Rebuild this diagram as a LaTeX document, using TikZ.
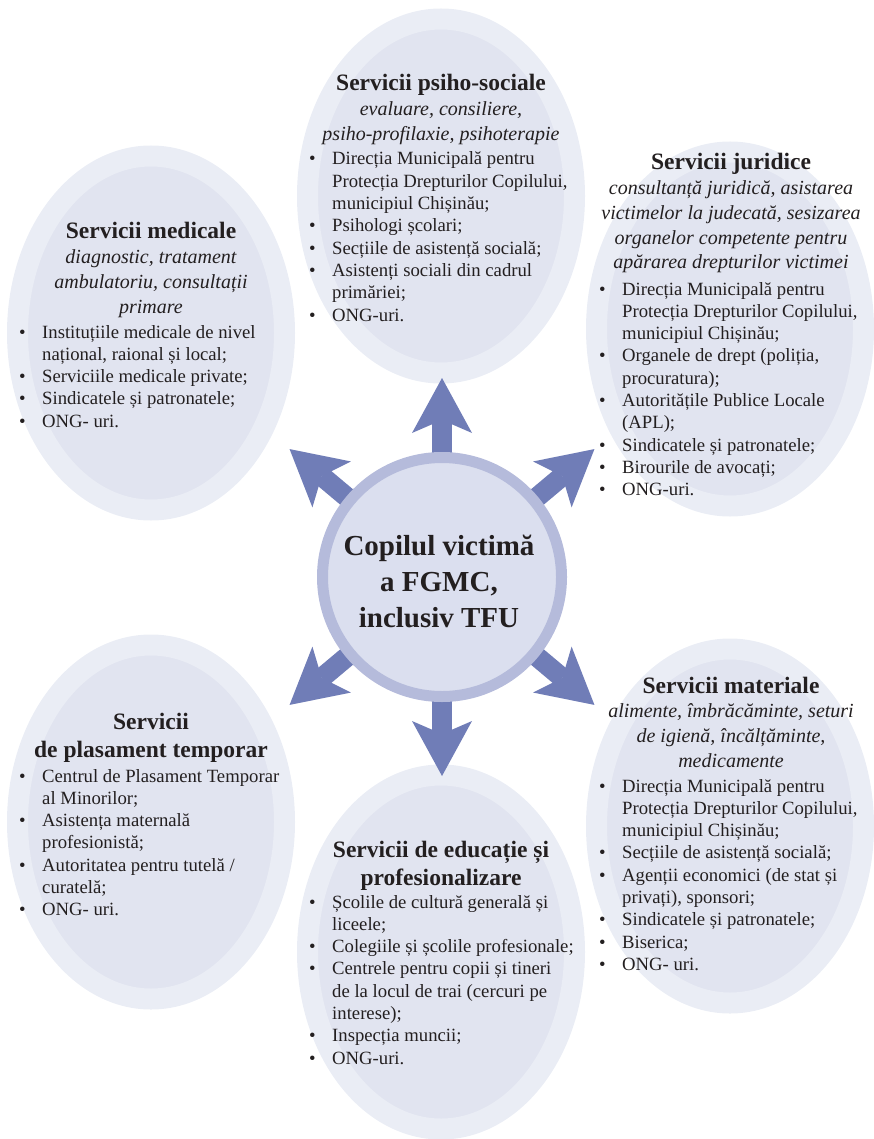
\documentclass[tikz,border=0pt]{standalone}
\usepackage{fontspec}
\setmainfont{Liberation Serif}
\usetikzlibrary{arrows.meta}

\definecolor{ringcol}{HTML}{EAEDF5}
\definecolor{ovalcol}{HTML}{E1E4F0}
\definecolor{hubring}{HTML}{B5BBDB}
\definecolor{hubfill}{HTML}{DBDFEF}
\definecolor{spokecol}{HTML}{707DB7}
\definecolor{inkcol}{HTML}{231F20}

\newcommand{\svcnote}[1]{{\fontsize{20}{24.7}\selectfont\itshape #1}}

\begin{document}
\begin{tikzpicture}[x=1pt,y=-1pt,
  oval/.style={draw=ringcol,line width=21pt,fill=ovalcol},
  spoke/.style={draw=spokecol,line width=20pt,-{Stealth[length=55pt,width=60pt,inset=13pt,line width=0pt]}},
  hub/.style={circle,draw=hubring,line width=11pt,fill=hubfill,minimum size=239pt,inner sep=0pt},
  hubtext/.style={text=inkcol,font=\fontsize{29}{36}\selectfont\bfseries,inner sep=0pt,anchor=base},
  headbox/.style={text=inkcol,font=\fontsize{23.5}{24.7}\selectfont,inner sep=0pt,anchor=base},
  listbox/.style={text=inkcol,font=\fontsize{18.7}{22.3}\selectfont,inner sep=0pt,anchor=base west}]

\useasboundingbox (0,0) rectangle (873,1139);

% the six service ovals
\coordinate (psi) at (441,196);
\coordinate (med) at (151,333);
\coordinate (jur) at (730,329);
\coordinate (pla) at (151,822);
\coordinate (mat) at (730,826);
\coordinate (edu) at (441,952);
\foreach \p in {psi,med,jur,pla,mat,edu}
  \draw[oval] (\p) ellipse [x radius=133.5pt, y radius=177pt];

% spokes from the centre
\coordinate (c) at (442,577);
\foreach \a [count=\i] in {90,40,320,270,220,140}
  \path (c) ++(\a:199) coordinate (tip\i);
\foreach \i in {1,...,6}
  \draw[spoke] (c) -- (tip\i);

\node[hub] (hub) at (c) {};
\node[hubtext] (hubT) at (439,555) {\begin{tabular}[t]{@{}c@{}}Copilul victimă\\ a FGMC,\\ inclusiv TFU\end{tabular}};

% psiho-sociale
\node[headbox] (psiH) at (441,91) {\begin{tabular}[t]{@{}c@{}}\textbf{Servicii psiho-sociale}\\
  \svcnote{evaluare, consiliere,}\\ \svcnote{psiho-profilaxie, psihoterapie}\end{tabular}};
\node[listbox] (psiL) at (309,165) {\begin{tabular}[t]{@{}p{23pt}@{}l@{}}
  • & Direcția Municipală pentru\\ & Protecția Drepturilor Copilului,\\ & municipiul Chișinău;\\
  • & Psihologi școlari;\\
  • & Secțiile de asistență socială;\\
  • & Asistenți sociali din cadrul\\ & primăriei;\\
  • & ONG-uri.\end{tabular}};

% medicale
\node[headbox] (medH) at (151,239) {\begin{tabular}[t]{@{}c@{}}\textbf{Servicii medicale}\\
  \svcnote{diagnostic, tratament}\\ \svcnote{ambulatoriu, consultații}\\ \svcnote{primare}\end{tabular}};
\node[listbox] (medL) at (19,338) {\begin{tabular}[t]{@{}p{23pt}@{}l@{}}
  • & Instituțiile medicale de nivel\\ & național, raional și local;\\
  • & Serviciile medicale private;\\
  • & Sindicatele și patronatele;\\
  • & ONG- uri.\end{tabular}};

% juridice
\node[headbox] (jurH) at (731,170) {\begin{tabular}[t]{@{}c@{}}\textbf{Servicii juridice}\\
  \svcnote{consultanță juridică, asistarea}\\ \svcnote{victimelor la judecată, sesizarea}\\
  \svcnote{organelor competente pentru}\\ \svcnote{apărarea drepturilor victimei}\end{tabular}};
\node[listbox] (jurL) at (599,295) {\begin{tabular}[t]{@{}p{23pt}@{}l@{}}
  • & Direcția Municipală pentru\\ & Protecția Drepturilor Copilului,\\ & municipiul Chișinău;\\
  • & Organele de drept (poliția,\\ & procuratura);\\
  • & Autoritățile Publice Locale\\ & (APL);\\
  • & Sindicatele și patronatele;\\
  • & Birourile de avocați;\\
  • & ONG-uri.\end{tabular}};

% plasament temporar
\node[headbox] (plaH) at (151,729) {\begin{tabular}[t]{@{}c@{}}\textbf{Servicii}\\[3.3pt]
  \textbf{de plasament temporar}\end{tabular}};
\node[listbox] (plaL) at (19,782) {\begin{tabular}[t]{@{}p{23pt}@{}l@{}}
  • & Centrul de Plasament Temporar\\ & al Minorilor;\\
  • & Asistența maternală\\ & profesionistă;\\
  • & Autoritatea pentru tutelă /\\ & curatelă;\\
  • & ONG- uri.\end{tabular}};

% materiale
\node[headbox] (matH) at (731,693) {\begin{tabular}[t]{@{}c@{}}\textbf{Servicii materiale}\\
  \svcnote{alimente, îmbrăcăminte, seturi}\\ \svcnote{de igienă, încălțăminte,}\\ \svcnote{medicamente}\end{tabular}};
\node[listbox] (matL) at (599,792) {\begin{tabular}[t]{@{}p{23pt}@{}l@{}}
  • & Direcția Municipală pentru\\ & Protecția Drepturilor Copilului,\\ & municipiul Chișinău;\\
  • & Secțiile de asistență socială;\\
  • & Agenții economici (de stat și\\ & privați), sponsori;\\
  • & Sindicatele și patronatele;\\
  • & Biserica;\\
  • & ONG- uri.\end{tabular}};

% educatie
\node[headbox] (eduH) at (441,857) {\begin{tabular}[t]{@{}c@{}}\textbf{Servicii de educație și}\\[3.3pt]
  \textbf{profesionalizare}\end{tabular}};
\node[listbox] (eduL) at (309,908) {\begin{tabular}[t]{@{}p{23pt}@{}l@{}}
  • & Școlile de cultură generală și\\ & liceele;\\
  • & Colegiile și școlile profesionale;\\
  • & Centrele pentru copii și tineri\\ & de la locul de trai (cercuri pe\\ & interese);\\
  • & Inspecția muncii;\\
  • & ONG-uri.\end{tabular}};

\end{tikzpicture}
\end{document}
